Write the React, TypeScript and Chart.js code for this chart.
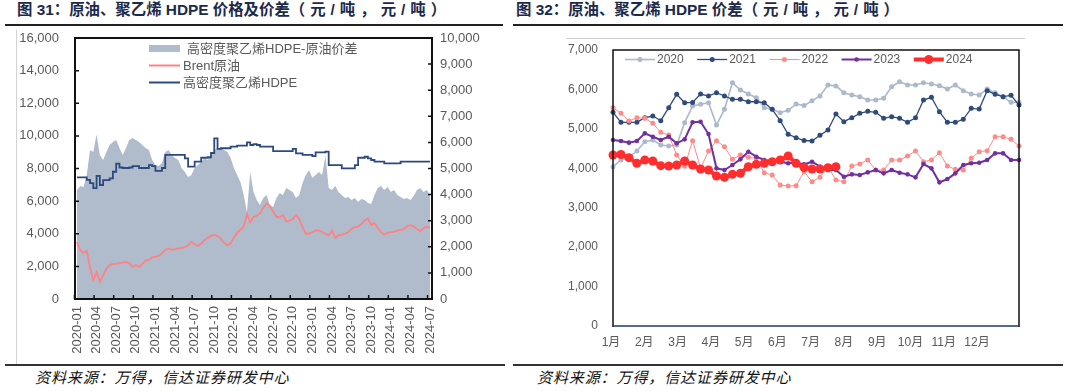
import React, { useEffect, useRef } from "react";
import { Chart, registerables } from "chart.js";

Chart.register(...registerables);

const FONT = "'Liberation Sans', 'Noto Sans CJK SC', sans-serif";
const LABEL_GRAY = "#595959";
const TITLE_COLOR = "#1b2a4a";

// ---------------- 图31 data: half-month samples starting 2020-01 ----------------
const MONTH_STEP = 0.5;
const spreadLabel = "高密度聚乙烯HDPE-原油价差";
const brentLabel = "Brent原油";
const hdpeLabel = "高密度聚乙烯HDPE";

const spread = [
  4176, 4329, 4291, 4750, 5708, 5632, 6300, 5517, 5325, 5632, 5900, 6015, 6091, 5785, 5517, 5785, 6091, 6168, 6091, 6015, 5900, 5785, 5708, 5325,
  5133, 5095, 5210, 5632, 5708, 5517, 5402, 5325, 5018, 4865, 4674, 4750, 5018, 5133, 5248, 5402, 5325, 5478, 5708, 5785, 5785, 5708, 5632, 5402,
  5018, 4750, 4482, 3984, 3333, 4865, 4099, 3793, 3601, 3869, 3984, 3601, 3525, 3869, 4061, 3984, 4252, 4176, 4099, 3869, 3984, 4444, 4750, 4942,
  4635, 4750, 4865, 4750, 5500, 4252, 4176, 4329, 4099, 3984, 3869, 3908, 3793, 3869, 3716, 3831, 3793, 3678, 3640, 3984, 4252, 4329, 4176, 4291,
  4099, 4176, 3984, 3908, 3831, 3869, 3793, 3946, 4176, 4252, 4099, 4176, 3984,
];

const brent = [
  3500, 3000, 2820, 2950, 1900, 1165, 1650, 1050, 1450, 1850, 2080, 2150, 2150, 2200, 2230, 2270, 2200, 1960, 2080, 1950, 2150, 2350, 2400, 2550,
  2600, 2640, 2800, 3000, 3100, 3000, 3060, 3100, 3130, 3180, 3300, 3500, 3350, 3250, 3400, 3600, 3750, 3850, 3925, 3870, 3700, 3450, 3300, 3400,
  3750, 4050, 4250, 4420, 5200, 4700, 5030, 5100, 5250, 5600, 5850, 5700, 5350, 5050, 5000, 5150, 4750, 4800, 4900, 5150, 4900, 4400, 4000, 4000,
  4110, 4200, 4200, 4110, 4000, 3900, 4200, 3750, 3900, 3950, 4000, 4100, 4300, 4400, 4450, 4600, 4800, 4950, 4550, 4650, 4350, 4100, 3950, 4050,
  4100, 4110, 4200, 4230, 4300, 4450, 4530, 4450, 4300, 4150, 4350, 4420, 4400,
];

const hdpe = [
  7460, 7460, 7460, 7300, 7100, 6800, 7550, 6990, 7290, 7290, 7400, 7800, 8300, 8060, 8030, 8030, 8060, 8150, 8150, 8030, 8030, 8030, 8210, 8150,
  7850, 7850, 8030, 8830, 8830, 8830, 8830, 8830, 8830, 8620, 8110, 8110, 8420, 8420, 8660, 8660, 8690, 8950, 9850, 9200, 9240, 9240, 9240, 9340,
  9340, 9400, 9400, 9400, 9600, 9440, 9500, 9440, 9340, 9340, 9340, 9340, 9070, 9070, 9070, 9070, 9070, 9070, 9200, 8930, 8930, 8830, 8830, 8830,
  8760, 8990, 8990, 8990, 9030, 8210, 8210, 8210, 8210, 8010, 8010, 8010, 8010, 8210, 8660, 8660, 8720, 8620, 8520, 8420, 8420, 8420, 8310, 8310,
  8310, 8310, 8310, 8420, 8420, 8420, 8420, 8420, 8420, 8420, 8420, 8420, 8420,
];

const leftTickLabels = [
  "2020-01", "2020-04", "2020-07", "2020-10",
  "2021-01", "2021-04", "2021-07", "2021-10",
  "2022-01", "2022-04", "2022-07", "2022-10",
  "2023-01", "2023-04", "2023-07", "2023-10",
  "2024-01", "2024-04", "2024-07",
];
const LEFT_TICK_EVERY = 3; // months between labels

// ---------------- 图32 data: weekly spread by year ----------------
const monthLabels = ["1月", "2月", "3月", "4月", "5月", "6月", "7月", "8月", "9月", "10月", "11月", "12月"];
const WEEKS_PER_LABEL = 4.18;
const FIRST_LABEL_WEEK = -0.25;

const y2020 = [
  4040, 4210, 4278, 4438, 4674, 4717, 4590, 4565, 4590, 5157,
  5579, 5622, 5663, 5097, 5495, 6170, 5985, 5884, 5790, 5537,
  5495, 5410, 5470, 5630, 5590, 5714, 5833, 6112, 6090, 5917,
  5858, 5816, 5731, 5731, 5774, 6069, 6196, 6112, 6112, 6170,
  6137, 6095, 6010, 6112, 5968, 5884, 5858, 6010, 5917, 5816,
  5672, 5672,
];
const y2021 = [
  5419, 5166, 5166, 5166, 5283, 5326, 5207, 5537, 5876, 5663,
  5671, 5884, 5833, 5917, 5833, 5749, 5749, 5688, 5688, 5663,
  5495, 5207, 4861, 4776, 4705, 4692, 4836, 4971, 5376, 5182,
  5283, 5393, 5444, 5419, 5267, 5309, 5267, 5166, 5283, 5731,
  5800, 5435, 5166, 5166, 5242, 5520, 5503, 5968, 5876, 5816,
  5850, 5605,
];
const y2022 = [
  5537, 5393, 5199, 5283, 5267, 5140, 4911, 4844, 4337, 4050,
  4700, 4000, 4438, 4700, 4548, 4227, 4337, 4278, 4253, 3888,
  3829, 3576, 3550, 3560, 3913, 3660, 3770, 4040, 3702, 3660,
  4058, 4108, 4210, 3956, 3956, 4210, 4210, 4311, 4438, 4167,
  4210, 4395, 4058, 3973, 3956, 4253, 4421, 4446, 4801, 4801,
  4734, 4565,
];
const y2023 = [
  4717, 4692, 4650, 4692, 4886, 4801, 4717, 4801, 4633, 4734,
  5166, 5182, 4869, 3999, 3956, 4083, 4227, 4421, 4294, 4210,
  4185, 4167, 4126, 4142, 4100, 4167, 4040, 3956, 3956, 3787,
  3846, 3829, 3897, 3956, 3871, 3956, 3888, 3846, 3770, 4108,
  3999, 3643, 3728, 3871, 4083, 4126, 4142, 4210, 4379, 4379,
  4210, 4210,
];
const y2024 = [
  4337, 4350, 4269, 4126, 4210, 4185, 4066, 4058, 4083, 4185,
  4083, 3982, 3956, 3804, 3770, 3846, 3871, 4040, 4100, 4126,
  4167, 4210, 4311, 4126, 4020, 3982, 3982, 4015, 4040,
];
const yearLabels = ["2020", "2021", "2022", "2023", "2024"];

const toXY = (arr: number[], step: number) => arr.map((v, i) => ({ x: i * step, y: v }));
const fmt = (v: any) => Number(v).toLocaleString("en-US");

// keep Chart.js from enlarging the plot margins for tick-label overhang
const fixSize = (prop: "width" | "height", size: number) => (s: any) => {
  s[prop] = size;
  s.paddingTop = 0;
  s.paddingBottom = 0;
  s.paddingLeft = 0;
  s.paddingRight = 0;
};

function framePlugin(cfg: { color: string; bottomColor?: string; width: number; ticks?: boolean }) {
  return {
    id: "frame",
    afterDatasetsDraw(chart: any) {
      const { ctx, chartArea: a, scales } = chart;
      ctx.save();
      ctx.lineWidth = cfg.width;
      ctx.strokeStyle = cfg.color;
      ctx.lineCap = "square";
      ctx.beginPath();
      ctx.moveTo(a.left, a.bottom);
      ctx.lineTo(a.left, a.top);
      ctx.lineTo(a.right, a.top);
      ctx.lineTo(a.right, a.bottom);
      if (!cfg.bottomColor) ctx.lineTo(a.left, a.bottom);
      ctx.stroke();
      if (cfg.bottomColor) {
        ctx.strokeStyle = cfg.bottomColor;
        ctx.beginPath();
        ctx.moveTo(a.left, a.bottom);
        ctx.lineTo(a.right, a.bottom);
        ctx.stroke();
      }
      if (cfg.ticks) {
        const L = 4;
        ctx.strokeStyle = cfg.color;
        ctx.lineWidth = 1.5;
        ctx.lineCap = "butt";
        ctx.beginPath();
        scales.y.ticks.forEach((t: any) => {
          const py = scales.y.getPixelForValue(t.value);
          ctx.moveTo(a.left, py);
          ctx.lineTo(a.left + L, py);
        });
        scales.y2.ticks.forEach((t: any) => {
          const py = scales.y2.getPixelForValue(t.value);
          ctx.moveTo(a.right, py);
          ctx.lineTo(a.right - L, py);
        });
        scales.x.ticks.forEach((t: any) => {
          const px = scales.x.getPixelForValue(t.value) - 2.5;
          ctx.moveTo(px, a.bottom);
          ctx.lineTo(px, a.bottom - L);
        });
        ctx.stroke();
      }
      ctx.restore();
    },
  };
}

const leftLegendPlugin = {
  id: "leftLegend",
  afterDraw(chart: any) {
    const { ctx, chartArea: a } = chart;
    const x0 = a.left + 74;
    const symW = 31;
    ctx.save();
    ctx.font = `13px ${FONT}`;
    ctx.textBaseline = "middle";
    chart.data.datasets.forEach((d: any, i: number) => {
      const y = a.top + 10.5 + i * 17;
      if (d.fill) {
        ctx.fillStyle = d.backgroundColor;
        ctx.fillRect(x0, y - 3.5, symW, 7);
      } else {
        ctx.strokeStyle = d.borderColor;
        ctx.lineWidth = 2;
        ctx.beginPath();
        ctx.moveTo(x0, y);
        ctx.lineTo(x0 + symW, y);
        ctx.stroke();
      }
      ctx.fillStyle = LABEL_GRAY;
      ctx.fillText(d.label, x0 + (d.fill ? 38 : 34), y + 0.5);
    });
    ctx.restore();
  },
};

const rightLegendPlugin = {
  id: "rightLegend",
  afterDraw(chart: any) {
    const { ctx, chartArea: a } = chart;
    let x = a.left + 12;
    const y = a.top + 9.5;
    ctx.save();
    ctx.font = `12px ${FONT}`;
    ctx.textBaseline = "middle";
    chart.data.datasets.forEach((d: any) => {
      ctx.strokeStyle = d.borderColor;
      ctx.lineWidth = d.borderWidth;
      ctx.beginPath();
      ctx.moveTo(x, y);
      ctx.lineTo(x + 30, y);
      ctx.stroke();
      ctx.fillStyle = d.pointBackgroundColor;
      ctx.beginPath();
      ctx.arc(x + 15, y, d.pointRadius, 0, Math.PI * 2);
      ctx.fill();
      ctx.fillStyle = LABEL_GRAY;
      ctx.fillText(d.label, x + 32, y + 0.5);
      x += 32 + ctx.measureText(d.label).width + 13.5;
    });
    ctx.restore();
  },
};

function LeftChart() {
  const ref = useRef<HTMLCanvasElement | null>(null);
  useEffect(() => {
    if (!ref.current) return;
    const chart = new Chart(ref.current, {
      type: "line",
      data: {
        datasets: [
          {
            label: spreadLabel,
            data: toXY(spread, MONTH_STEP),
            yAxisID: "y2",
            fill: "origin",
            backgroundColor: "#b0bbcc",
            borderColor: "#b0bbcc",
            borderWidth: 0,
            pointRadius: 0,
            order: 3,
          },
          {
            label: brentLabel,
            data: toXY(brent, MONTH_STEP),
            yAxisID: "y",
            borderColor: "#ff8282",
            borderWidth: 1.8,
            pointRadius: 0,
            fill: false,
            order: 2,
          },
          {
            label: hdpeLabel,
            data: toXY(hdpe, MONTH_STEP),
            yAxisID: "y",
            borderColor: "#2b4a7e",
            borderWidth: 1.8,
            pointRadius: 0,
            fill: false,
            stepped: true,
            order: 1,
          },
        ] as any,
      },
      options: {
        responsive: false,
        animation: false,
        layout: { padding: { left: 0, right: 30, top: 8, bottom: 6 } },
        plugins: { legend: { display: false }, tooltip: { enabled: false } },
        scales: {
          x: {
            type: "linear",
            min: -0.3,
            max: 54.3,
            grid: { display: false, drawTicks: false },
            border: { display: false },
            afterBuildTicks: (s: any) => {
              s.ticks = leftTickLabels.map((_, i) => ({ value: i * LEFT_TICK_EVERY }));
            },
            afterFit: fixSize("height", 60),
            ticks: {
              autoSkip: false,
              minRotation: 90,
              maxRotation: 90,
              padding: 7,
              color: LABEL_GRAY,
              font: { family: FONT, size: 13 },
              callback: (_v: any, i: number) => leftTickLabels[i],
            },
          },
          y: {
            position: "left",
            min: 0,
            max: 16000,
            grid: { display: false, drawTicks: false },
            border: { display: false },
            afterFit: fixSize("width", 58),
            ticks: {
              stepSize: 2000,
              padding: 16,
              color: LABEL_GRAY,
              font: { family: FONT, size: 13 },
              callback: fmt,
            },
          },
          y2: {
            position: "right",
            min: 0,
            max: 10000,
            grid: { display: false, drawTicks: false },
            border: { display: false },
            afterFit: fixSize("width", 60),
            ticks: {
              stepSize: 1000,
              padding: 8,
              color: LABEL_GRAY,
              font: { family: FONT, size: 13 },
              callback: fmt,
            },
          },
        },
      } as any,
      plugins: [framePlugin({ color: "#111111", width: 2, ticks: true }), leftLegendPlugin],
    });
    return () => chart.destroy();
  }, []);
  return (
    <canvas
      ref={ref}
      width={505}
      height={335}
      style={{ position: "absolute", left: 17, top: 30, width: 505, height: 335 }}
    />
  );
}

function RightChart() {
  const ref = useRef<HTMLCanvasElement | null>(null);
  useEffect(() => {
    if (!ref.current) return;
    const series = [y2020, y2021, y2022, y2023, y2024];
    const colors = ["#adb9ca", "#2f4b7c", "#ff8a8a", "#7030a0", "#ff2e2e"];
    const widths = [1.6, 1.3, 1, 2, 4];
    const radii = [2.5, 2.5, 2.5, 2.3, 4.5];
    const orders = [4, 3, 2, 1, 0];
    const chart = new Chart(ref.current, {
      type: "line",
      data: {
        datasets: series.map((s, i) => ({
          label: yearLabels[i],
          data: toXY(s, 1),
          borderColor: colors[i],
          backgroundColor: colors[i],
          pointBackgroundColor: colors[i],
          pointBorderColor: colors[i],
          borderWidth: widths[i],
          pointRadius: radii[i],
          pointBorderWidth: 0,
          fill: false,
          clip: false,
          order: orders[i],
        })) as any,
      },
      options: {
        responsive: false,
        animation: false,
        layout: { padding: { left: 0, right: 41, top: 20, bottom: 4 } },
        plugins: { legend: { display: false }, tooltip: { enabled: false } },
        scales: {
          x: {
            type: "linear",
            min: 0,
            max: 51,
            grid: { display: false, drawTicks: false },
            border: { display: false },
            afterBuildTicks: (s: any) => {
              s.ticks = monthLabels.map((_, i) => ({ value: FIRST_LABEL_WEEK + i * WEEKS_PER_LABEL }));
            },
            afterFit: fixSize("height", 30),
            ticks: {
              autoSkip: false,
              maxRotation: 0,
              minRotation: 0,
              padding: 9,
              color: LABEL_GRAY,
              font: { family: FONT, size: 12 },
              callback: (_v: any, i: number) => monthLabels[i],
            },
          },
          y: {
            min: 0,
            max: 7000,
            grid: { display: false, drawTicks: false },
            border: { display: false },
            afterFit: fixSize("width", 93),
            ticks: {
              stepSize: 1000,
              padding: 15,
              color: LABEL_GRAY,
              font: { family: FONT, size: 12 },
              callback: fmt,
            },
          },
        },
      } as any,
      plugins: [framePlugin({ color: "#111111", bottomColor: "#1f3864", width: 1.5 }), rightLegendPlugin],
    });
    return () => chart.destroy();
  }, []);
  return (
    <canvas
      ref={ref}
      width={540}
      height={330}
      style={{ position: "absolute", left: 520, top: 30, width: 540, height: 330 }}
    />
  );
}

const titleStyle: React.CSSProperties = {
  position: "absolute",
  top: 0,
  fontSize: 15.4,
  fontWeight: "bold",
  lineHeight: "20px",
  color: TITLE_COLOR,
  whiteSpace: "nowrap",
};
const unitStyle: React.CSSProperties = { letterSpacing: "5px" };
const footStyle: React.CSSProperties = {
  position: "absolute",
  top: 368,
  fontSize: 15,
  fontStyle: "italic",
  lineHeight: "20px",
  letterSpacing: "0.9px",
  color: "#111",
  whiteSpace: "nowrap",
};
const rule = (left: number, top: number, width: number, height: number, color: string): React.CSSProperties => ({
  position: "absolute",
  left,
  top,
  width,
  height,
  background: color,
});

export default function App() {
  return (
    <div
      style={{
        position: "absolute",
        left: 0,
        top: 0,
        width: 1073,
        height: 391,
        background: "#ffffff",
        overflow: "hidden",
        fontFamily: FONT,
      }}
    >
      <div style={{ ...titleStyle, left: 17 }}>
        图 31：原油、聚乙烯 HDPE 价格及价差<span style={unitStyle}>（元/吨，元/吨）</span>
      </div>
      <div style={{ ...titleStyle, left: 516 }}>
        图 32：原油、聚乙烯 HDPE 价差<span style={unitStyle}>（元/吨，元/吨）</span>
      </div>
      <div style={rule(5, 24, 498, 2, "#222")} />
      <div style={rule(513, 24, 550, 2, "#222")} />
      <div style={rule(16, 30, 1, 334, "#d4d4d4")} />
      <div style={rule(566, 38, 459, 1, "#cfcfcf")} />
      <LeftChart />
      <RightChart />
      <div style={rule(5, 364, 500, 1.5, "#333")} />
      <div style={rule(513, 364, 550, 1.5, "#333")} />
      <div style={{ ...footStyle, left: 35 }}>资料来源：万得，信达证券研发中心</div>
      <div style={{ ...footStyle, left: 537 }}>资料来源：万得，信达证券研发中心</div>
    </div>
  );
}
